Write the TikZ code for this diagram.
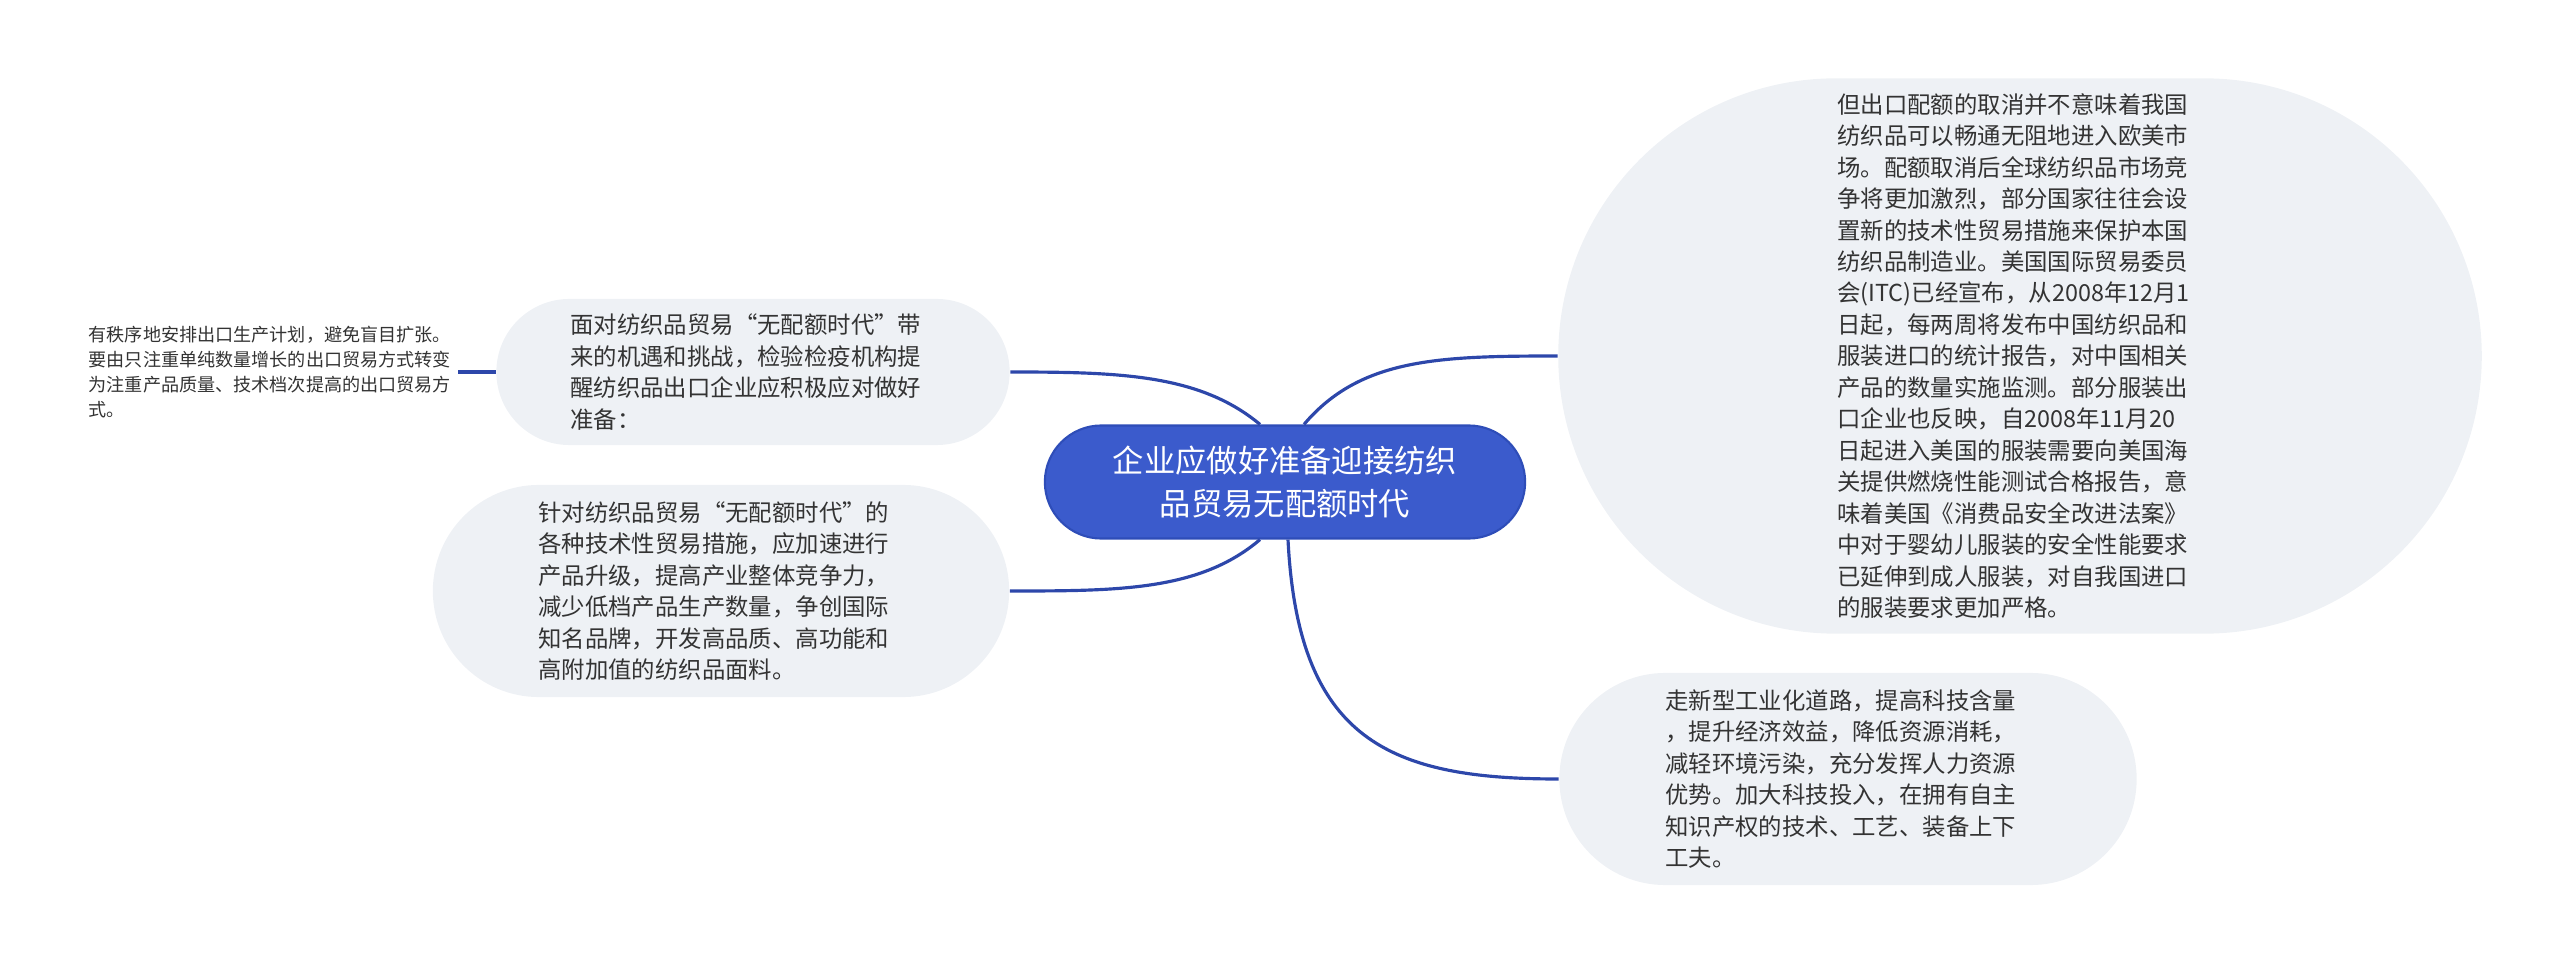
\documentclass[tikz,border=0pt]{standalone}
\usepackage{fontspec}
\setmainfont{Noto Sans CJK SC}
\usepackage{xcolor}
\usepackage{tikz}
\usetikzlibrary{
  calc
}
\definecolor{rootblue}{HTML}{3B5BCC}
\definecolor{rootedge}{HTML}{2E4DB8}
\definecolor{linkblue}{HTML}{2D47AA}
\definecolor{leaffill}{HTML}{EEF1F5}
\definecolor{darkgrey}{HTML}{333333}
\tikzset{
  rootbox/.style={
    rectangle, rounded corners=0.565cm, draw=rootedge, fill=rootblue,
    line width=0.6pt, minimum width=4.8cm, minimum height=1.13cm,
    text width=3.5cm, align=center, text=white, inner sep=0pt,
    font=\fontsize{8.9pt}{12pt}\selectfont
  },
  leafbox/.style={
    rectangle, fill=leaffill, text width=3.65cm, align=left,
    text=darkgrey, inner sep=0pt,
    font=\fontsize{6.65pt}{8.95pt}\selectfont
  },
  tipnote/.style={
    align=left, text=darkgrey, inner sep=0pt, inner xsep=0.06cm,
    font=\fontsize{5.15pt}{7.1pt}\selectfont
  },
  link/.style={
    line width=0.9pt, color=linkblue
  },
}

\begin{document}
\begin{tikzpicture}[x=0.01cm, y=-0.01cm]
  \useasboundingbox (0,0) rectangle (2560,964);

  %% Root
  \node[rootbox] (root) at (1285,482) {企业应做好准备迎接纺织\\品贸易无配额时代};

  %% Left branches
  \node[leafbox, minimum width=5.13cm, minimum height=1.46cm, rounded corners=0.73cm]
    (prep) at (753,372) {面对纺织品贸易“无配额时代”带\\来的机遇和挑战，检验检疫机构提\\醒纺织品出口企业应积极应对做好\\准备：};
  \node[leafbox, minimum width=5.76cm, minimum height=2.12cm, rounded corners=1.06cm]
    (upgrade) at (721,591) {针对纺织品贸易“无配额时代”的\\各种技术性贸易措施，应加速进行\\产品升级，提高产业整体竞争力，\\减少低档产品生产数量，争创国际\\知名品牌，开发高品质、高功能和\\高附加值的纺织品面料。};
  \node[tipnote, anchor=west] (tip) at (82,372) {有秩序地安排出口生产计划，避免盲目扩张。\\要由只注重单纯数量增长的出口贸易方式转变\\为注重产品质量、技术档次提高的出口贸易方\\式。};

  %% Right branches
  \node[leafbox, minimum width=9.23cm, minimum height=5.55cm, rounded corners=2.775cm]
    (quota) at (2020,356) {但出口配额的取消并不意味着我国\\纺织品可以畅通无阻地进入欧美市\\场。配额取消后全球纺织品市场竞\\争将更加激烈，部分国家往往会设\\置新的技术性贸易措施来保护本国\\纺织品制造业。美国国际贸易委员\\会(ITC)已经宣布，从2008年12月1\\日起，每两周将发布中国纺织品和\\服装进口的统计报告，对中国相关\\产品的数量实施监测。部分服装出\\口企业也反映，自2008年11月20\\日起进入美国的服装需要向美国海\\关提供燃烧性能测试合格报告，意\\味着美国《消费品安全改进法案》\\中对于婴幼儿服装的安全性能要求\\已延伸到成人服装，对自我国进口\\的服装要求更加严格。};
  \node[leafbox, minimum width=5.77cm, minimum height=2.12cm, rounded corners=1.06cm]
    (road) at (1848,779) {走新型工业化道路，提高科技含量\\，提升经济效益，降低资源消耗，\\减轻环境污染，充分发挥人力资源\\优势。加大科技投入，在拥有自主\\知识产权的技术、工艺、装备上下\\工夫。};

  %% Links
  \draw[link] ($(root.north)+(-25,0)$) .. controls ($(root.north)+(-85,-50)$) and ($(prep.east)+(110,0)$) .. (prep.east);
  \draw[link] ($(root.south)+(-25,0)$) .. controls ($(root.south)+(-85,51)$) and ($(upgrade.east)+(110,0)$) .. (upgrade.east);
  \draw[link] ($(root.north)+(19,0)$) .. controls ($(root.north)+(75,-66)$) and ($(quota.west)+(-120,0)$) .. (quota.west);
  \draw[link] ($(root.south)+(3,0)$) .. controls ($(root.south)+(13,200)$) and ($(road.west)+(-170,0)$) .. (road.west);
  \draw[link] (prep.west) -- (tip.east);
\end{tikzpicture}
\end{document}
